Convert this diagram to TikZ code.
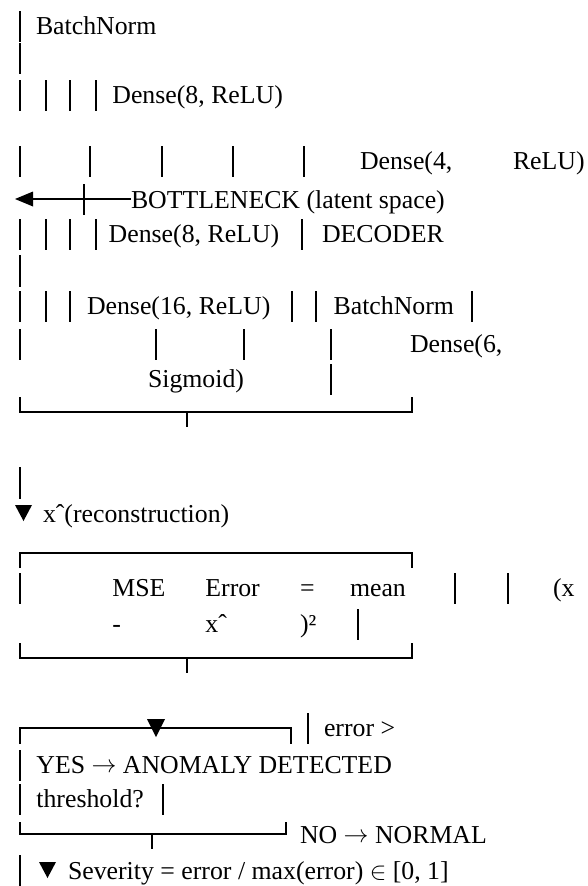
\documentclass[tikz,border=0pt]{standalone}
\usepackage{fontspec}
\setmainfont{Liberation Serif}
\newcommand\mybar[2]{\draw[bx] (#1,#2-23) -- (#1,#2+8);}
\newcommand\myarr{\raisebox{0.5pt}{$\rightarrow$}}
\begin{document}
\begin{tikzpicture}[x=1pt,y=-1pt,
  txt/.style={anchor=base west,inner sep=0pt,outer sep=0pt,font=\fontsize{25.8}{28}\selectfont},
  bx/.style={line width=2pt},
  tri/.style={fill=black,draw=none}]
\useasboundingbox (0,0) rectangle (587,886);
% L1
\mybar{19.5}{34}
\node[txt] (bn1) at (36,34) {BatchNorm};
% L2
\draw[bx] (19.5,43) -- (19.5,74);
% L3
\foreach \x in {19.5,45.7,70,96.3} {\mybar{\x}{103}}
\node[txt] (d8a) at (112.4,103) {Dense(8, ReLU)};
% L4
\foreach \x in {19.5,90,162,233,303.6} {\mybar{\x}{169}}
\node[txt] (d4a) at (360,169) {Dense(4,};
\node[txt] (d4b) at (513,169) {ReLU)};
% L5
\fill[tri] (15,199) -- (33,191.5) -- (33,206.5) -- cycle;
\draw[bx] (33,199) -- (131,199);
\draw[bx] (84,184) -- (84,215);
\node[txt] (bott) at (131,208) {BOTTLENECK (latent space)};
% L6
\foreach \x in {19.5,45.7,70,96.3,301.7} {\mybar{\x}{242}}
\node[txt] (d8b) at (108.7,242) {Dense(8, ReLU)};
\node[txt] (dec) at (322,242) {DECODER};
% L7
\draw[bx] (19.5,255) -- (19.5,287);
% L8
\foreach \x in {19.5,45.7,70,291.6,316,471.5} {\mybar{\x}{314}}
\node[txt] (d16) at (87,314) {Dense(16, ReLU)};
\node[txt] (bn2) at (333.6,314) {BatchNorm};
% L9
\foreach \x in {19.5,155.5,243.6,330.6} {\mybar{\x}{352}}
\node[txt] (d6) at (410,352) {Dense(6,};
% L10
\node[txt] (sig) at (148,387) {Sigmoid)};
\mybar{330.6}{387}
% box 1 bottom
\draw[bx] (19.5,397) -- (19.5,412) -- (412.3,412) -- (412.3,397);
\draw[bx] (187,412) -- (187,427);
% down bar + reconstruction
\draw[bx] (19.5,467) -- (19.5,499);
\fill[tri] (15,505) -- (32,505) -- (23.5,521) -- cycle;
\node[txt] (rec) at (43,522) {xˆ(reconstruction)};
% box 2 top
\draw[bx] (19.5,568) -- (19.5,553) -- (411.7,553) -- (411.7,568);
% L13
\foreach \x in {19.5,455,508} {\mybar{\x}{596}}
\node[txt] (mse) at (112.4,596) {MSE};
\node[txt] (errw) at (205.4,596) {Error};
\node[txt] (eq) at (300,596) {=};
\node[txt] (mean) at (350,596) {mean};
\node[txt] (px) at (553,596) {(x};
% L14
\node[txt] (minus) at (112.4,632) {-};
\node[txt] (xh) at (205.4,632) {xˆ};
\node[txt] (sq) at (300,632) {)²};
\mybar{358}{632}
% box 2 bottom
\draw[bx] (19.5,643) -- (19.5,658) -- (411.7,658) -- (411.7,643);
\draw[bx] (187,658) -- (187,673);
% decision box
\draw[bx] (20,744) -- (20,728) -- (291,728) -- (291,744);
\fill[tri] (147,719) -- (165,719) -- (156,737) -- cycle;
\mybar{308}{736}
\node[txt] (err) at (324,736) {error >};
\mybar{19.5}{773}
\node[txt] (yes) at (36.4,773) {YES \myarr\ ANOMALY DETECTED};
\mybar{19.5}{807}
\node[txt] (thr) at (36.4,807) {threshold?};
\mybar{163}{807}
\draw[bx] (19.5,822) -- (19.5,834) -- (285.6,834) -- (285.6,822);
\node[txt] (no) at (300,843) {NO \myarr\ NORMAL};
\draw[bx] (152,834) -- (152,849);
% severity
\draw[bx] (19.5,855) -- (19.5,886);
\fill[tri] (39,862) -- (56,862) -- (47.5,878) -- cycle;
\node[txt] (sev) at (68,879) {Severity = error / max(error) $\in$ [0, 1]};
\end{tikzpicture}
\end{document}
